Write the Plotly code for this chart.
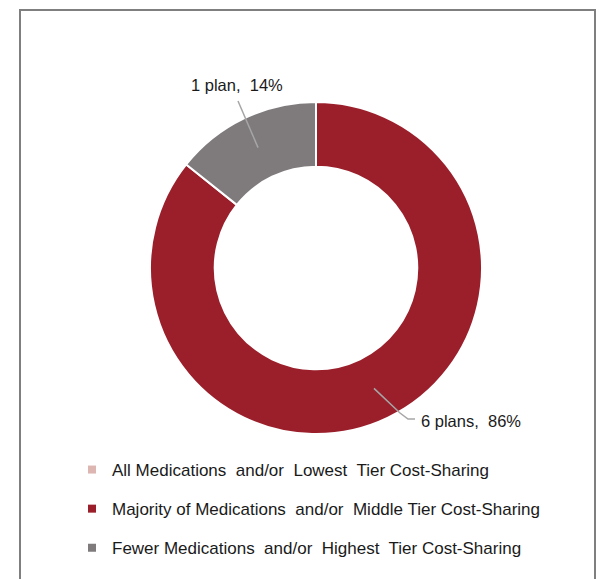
import math
import plotly.graph_objects as go

# ---- data ----
categories = [
    "All Medications  and/or  Lowest  Tier Cost-Sharing",
    "Majority of Medications  and/or  Middle Tier Cost-Sharing",
    "Fewer Medications  and/or  Highest  Tier Cost-Sharing",
]
plans = [0, 6, 1]
colors = ["#DDB6B1", "#9B1F2B", "#7F7B7C"]

W, H = 603, 579
CX, CY, R = 316, 268, 166
HOLE = 0.61


def px(x):
    return x / W


def py(y):
    return 1 - y / H


fig = go.Figure()
fig.add_trace(go.Pie(
    labels=categories, values=plans, sort=False, direction="clockwise",
    rotation=0, hole=HOLE, textinfo="none", hoverinfo="label+value+percent",
    marker=dict(colors=colors, line=dict(color="white", width=2)),
    domain=dict(x=[px(CX - R), px(CX + R)], y=[py(CY + R), py(CY - R)]),
    showlegend=False,
))

# legend via dummy traces
for i, (c, col) in enumerate(zip(categories, colors)):
    fig.add_trace(go.Scatter(
        x=[None], y=[None], mode="markers", name=c, legendgroup=f"g{i}",
        marker=dict(symbol="square", size=8, color=col),
    ))

# labels with leader lines, positioned at each slice's mid-angle
total = sum(plans)
cum = 0
shapes = []
annotations = []
label_pos = {1: ((419, 421), "left", [(400, 413), (408, 419), (415, 419)]),
             2: ((237, 85), "center", [(238, 101)])}
rmid = R * (1 + HOLE) / 2
for i, v in enumerate(plans):
    start = cum
    cum += v
    if v == 0:
        continue
    mid = (start + v / 2) / total * 2 * math.pi
    tx = CX + rmid * math.sin(mid)
    ty = CY - rmid * math.cos(mid)
    pct = round(v / total * 100)
    word = "plans" if v > 1 else "plan"
    (lx, ly), anch, pts = label_pos[i]
    path = f"M{px(tx)},{py(ty)}"
    for (ax, ay) in pts:
        path += f" L{px(ax)},{py(ay)}"
    shapes.append(dict(type="path", xref="paper", yref="paper", path=path,
                       line=dict(color="#A6A6A6", width=1.5)))
    annotations.append(dict(
        x=px(lx), y=py(ly), xref="paper", yref="paper", showarrow=False,
        text=f"{v} {word},  {pct}%", xanchor=anch, yanchor="middle",
        font=dict(size=16.5, color="#1A1A1A", family="Liberation Sans, Arial"),
    ))

# outer frame
shapes.append(dict(type="rect", xref="paper", yref="paper",
                   x0=px(20), x1=px(595), y0=py(590), y1=py(10),
                   line=dict(color="#7F7F7F", width=2), layer="below"))

fig.update_layout(
    width=W, height=H, margin=dict(l=0, r=0, t=0, b=0),
    paper_bgcolor="white", plot_bgcolor="white",
    xaxis=dict(visible=False), yaxis=dict(visible=False),
    shapes=shapes, annotations=annotations,
    legend=dict(x=px(72), y=py(452), xanchor="left", yanchor="top",
                tracegroupgap=14, bgcolor="rgba(0,0,0,0)",
                font=dict(size=17, color="#1A1A1A", family="Liberation Sans, Arial")),
)

fig.write_html("out.html")
